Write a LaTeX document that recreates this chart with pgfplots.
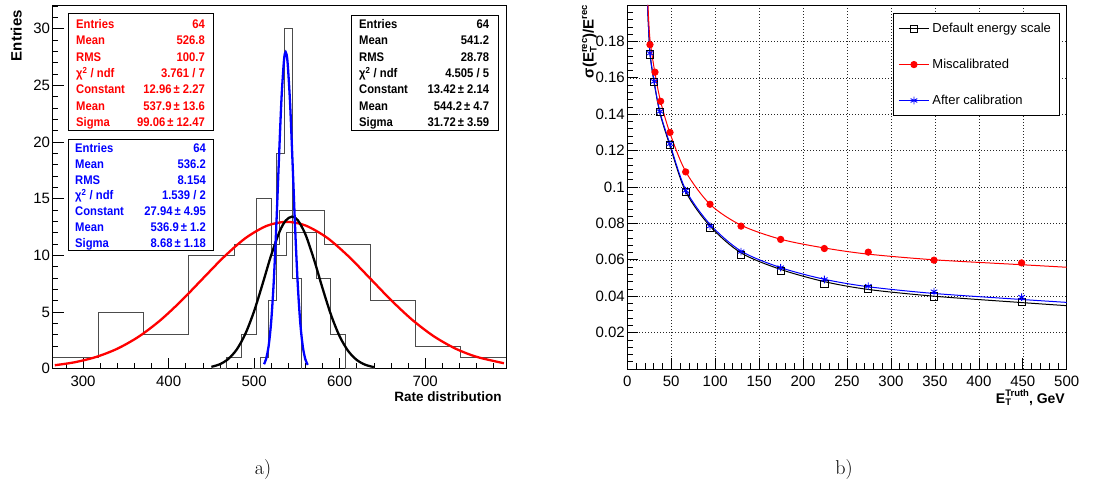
\documentclass[border=0pt]{standalone}
\usepackage{fontspec}
\setmainfont{Liberation Sans}
\newfontfamily\statfont[FakeStretch=0.9]{Liberation Sans}
\newfontfamily\lmr{Latin Modern Roman}
\usepackage{pgfplots}
\pgfplotsset{compat=1.18}

\newcommand{\supsub}[2]{%
  \setbox0=\hbox{\fontsize{9.5}{9.5}\selectfont\bfseries #1}%
  \setbox2=\hbox{\fontsize{9.5}{9.5}\selectfont\bfseries #2}%
  \ifdim\wd0>\wd2 \dimen0=\wd0 \else \dimen0=\wd2 \fi
  \hbox to\dimen0{\rlap{\raise 6.5pt\copy0}\lower 3pt\copy2\hfil}}
\newcommand{\supr}[1]{\raise 6.5pt\hbox{\fontsize{9.5}{9.5}\selectfont\bfseries #1}}

\newcommand{\srow}[5]{%
  \node[anchor=base west, inner sep=0pt] at (#1pt,#3pt) {#4};
  \node[anchor=base east, inner sep=0pt] at (#2pt,#3pt) {#5};}

\begin{document}
\begin{tikzpicture}
\useasboundingbox (0pt,0pt) rectangle (1099pt,487pt);

% ---------------- left panel ----------------
\begin{axis}[
  at={(52.7pt,118.3pt)}, anchor=south west,
  scale only axis, width=453.3pt, height=363.7pt,
  xmin=264.5, xmax=794.5, ymin=0, ymax=32.1,
  xtick={300,400,...,700}, minor xtick={280,300,...,780},
  ytick={0,5,...,30}, minor ytick={0,1,...,32},
  tick align=inside, xtick pos=bottom, ytick pos=left,
  major tick length=11pt, minor tick length=5.5pt,
  tick style={black, line width=0.6pt},
  /pgf/number format/assume math mode=true,
  ticklabel style={font=\fontsize{15}{15}\selectfont},
  xticklabel style={anchor=north, inner sep=0pt, yshift=-7pt},
  yticklabel style={anchor=east, inner sep=0pt, xshift=-2.5pt},
  axis line style={line width=0.8pt},
]
% wide histogram
\addplot[const plot, black!70, line width=0.8pt] coordinates {
 (264.5,1) (317.5,5) (370.5,3) (423.5,10) (476.5,11) (529.5,14)
 (582.5,11) (635.5,6) (688.5,2) (741.5,1) (794.5,1)};
% medium histogram
\addplot[const plot, black!70, line width=0.8pt] coordinates {
 (450.5,0) (467.9,1) (485.3,3) (502.7,15) (520.1,10) (537.5,12)
 (554.9,12) (572.3,8) (589.7,3) (607.1,0) (641.9,0)};
% narrow histogram
\addplot[const plot, black!70, line width=0.8pt] coordinates {
 (497,0) (507,1) (516.6,6) (526,19) (535.4,30) (545.2,8) (555,0)};
% red fit
\addplot[red, line width=2.3pt, smooth] coordinates {
 (267,0.308) (290,0.566) (315,1.031) (340,1.762) (365,2.826) (390,4.252)
 (415,6.003) (440,7.953) (465,9.885) (490,11.530) (515,12.618) (537.9,12.96)
 (560,12.641) (585,11.575) (610,9.944) (635,8.016) (660,6.063) (685,4.303)
 (710,2.866) (735,1.790) (760,1.050) (792,0.483)};
% black fit
\addplot[black, line width=2.3pt, smooth] coordinates {
 (450,0.163) (460,0.396) (470,0.870) (480,1.731) (490,3.117) (500,5.083)
 (510,7.505) (520,10.031) (530,12.140) (537,13.079) (544.2,13.42) (551,13.115)
 (560,11.854) (570,9.640) (580,7.098) (590,4.732) (600,2.856) (610,1.561)
 (620,0.772) (630,0.346) (640,0.140)};
% blue fit
\addplot[blue, line width=2.3pt, smooth] coordinates {
 (511.6,0.400) (514,0.861) (517,2.018) (520,4.198) (523,7.751) (526,12.700)
 (529,18.466) (532,23.825) (535,27.279) (536.9,27.94) (539,27.134) (542,23.511)
 (545,18.078) (548,12.335) (551,7.468) (554,4.013) (557,1.913) (560,0.810)
 (562.7,0.337)};
\end{axis}

% ---------------- right panel ----------------
\begin{axis}[
  at={(627.3pt,118pt)}, anchor=south west,
  scale only axis, width=439.4pt, height=364pt,
  xmin=0, xmax=500, ymin=0, ymax=0.2,
  xtick={0,50,...,500}, minor xtick={0,10,...,500},
  ytick={0.02,0.04,0.06,0.08,0.1,0.12,0.14,0.16,0.18},
  minor ytick={0.004,0.008,...,0.2},
  scaled y ticks=false,
  yticklabel={\pgfmathprintnumber[fixed,precision=2]{\tick}},
  tick align=inside, xtick pos=bottom, ytick pos=left,
  major tick length=11pt, minor tick length=5.5pt,
  tick style={black, line width=0.6pt},
  grid=major, grid style={black!85, line width=0.5pt, dash pattern=on 1pt off 2pt},
  /pgf/number format/assume math mode=true,
  ticklabel style={font=\fontsize{15}{15}\selectfont},
  xticklabel style={anchor=north, inner sep=0pt, yshift=-6.7pt},
  yticklabel style={anchor=east, inner sep=0pt, xshift=-2.3pt},
  axis line style={line width=0.8pt},
  legend image code/.code={\draw[#1, sharp plot, mark repeat=2, mark phase=2]
     plot coordinates {(0pt,0pt) (15pt,0pt) (30pt,0pt)};},
  legend style={at={(rel axis cs:0.9832,0.9772)}, anchor=north east,
     draw=black, line width=0.8pt, fill=white,
     font=\fontsize{13}{13}\selectfont,
     inner xsep=5pt, inner ysep=6.5pt, row sep=19pt,
     nodes={inner sep=3pt}},
  legend cell align=left,
]
% fit curves
\addplot[black, line width=1pt, smooth, forget plot] coordinates {
 (23.0,0.2) (25.8,0.1735) (30.7,0.1570) (37.2,0.1405) (48.6,0.1225) (66.4,0.0975)
 (94.1,0.0785) (129.4,0.0638) (174.5,0.0547) (224.2,0.0480) (274.2,0.0437)
 (349,0.0400) (448.7,0.0365) (500,0.0348)};
\addplot[blue, line width=1pt, smooth, forget plot] coordinates {
 (23.0,0.2) (25.8,0.1740) (30.7,0.1575) (37.2,0.1410) (48.6,0.1235) (66.4,0.0985)
 (94.1,0.0795) (129.4,0.0648) (174.5,0.0557) (224.2,0.0493) (274.2,0.0452)
 (349,0.0415) (448.7,0.0382) (500,0.0366)};
\addplot[red, line width=1pt, smooth, forget plot] coordinates {
 (23.5,0.2) (25.8,0.1810) (31.5,0.1625) (37.9,0.1470) (48.6,0.1295) (66.4,0.1085)
 (94.1,0.0905) (129.4,0.0790) (174.5,0.0713) (224.2,0.0665) (274.2,0.0631)
 (349,0.0600) (448.7,0.0573) (500,0.0559)};
% markers
\addplot[black, line width=0.8pt, only marks, mark=square, mark size=3.6pt] coordinates {
 (25.8,0.1729) (30.7,0.1576) (37.2,0.1411) (48.6,0.1232) (66.4,0.0975) (94.1,0.0776)
 (129.4,0.0629) (174.5,0.0541) (224.2,0.0469) (274.2,0.0440) (349,0.0399) (448.7,0.0368)};
\addlegendentry{Default energy scale}
\addplot[red, line width=0.8pt, only marks, mark=*, mark size=3.2pt, mark options={fill=red}] coordinates {
 (25.8,0.1782) (31.5,0.1631) (37.9,0.1471) (48.6,0.1300) (66.4,0.1083) (94.1,0.0905)
 (129.4,0.0785) (174.5,0.0712) (224.2,0.0662) (274.2,0.0642) (349,0.0598) (448.7,0.0583)};
\addlegendentry{Miscalibrated}
\addplot[blue, line width=0.9pt, only marks, mark=asterisk, mark size=3.8pt] coordinates {
 (25.8,0.1735) (30.7,0.1580) (37.2,0.1415) (48.6,0.1237) (66.4,0.0980) (94.1,0.0785)
 (129.4,0.0645) (174.5,0.0557) (224.2,0.0492) (274.2,0.0455) (349,0.0425) (448.7,0.0395)};
\addlegendentry{After calibration}
\end{axis}

% ---------------- stat boxes ----------------
\begin{scope}[font=\statfont\bfseries\fontsize{12.5}{12.5}\selectfont]
\draw[line width=0.8pt, fill=white] (68.3pt,473.7pt) rectangle (213.3pt,357pt);
\begin{scope}[red]
\srow{76}{205}{458.3}{Entries}{64}
\srow{76}{205}{442.0}{Mean}{526.8}
\srow{76}{205}{425.6}{RMS}{100.7}
\srow{76}{205}{409.3}{χ\textsuperscript{2} / ndf}{3.761 / 7}
\srow{76}{205}{393.0}{Constant}{12.96\,± 2.27}
\srow{76}{205}{376.6}{Mean}{537.9\,± 13.6}
\srow{76}{205}{360.3}{Sigma}{99.06\,± 12.47}
\end{scope}
\draw[line width=0.8pt, fill=white] (68.3pt,347.7pt) rectangle (213.3pt,237pt);
\begin{scope}[blue]
\srow{75}{206}{334.3}{Entries}{64}
\srow{75}{206}{318.5}{Mean}{536.2}
\srow{75}{206}{302.8}{RMS}{8.154}
\srow{75}{206}{287.0}{χ\textsuperscript{2} / ndf}{1.539 / 2}
\srow{75}{206}{271.2}{Constant}{27.94\,± 4.95}
\srow{75}{206}{255.4}{Mean}{536.9\,± 1.2}
\srow{75}{206}{239.7}{Sigma}{8.68\,± 1.18}
\end{scope}
\draw[line width=0.8pt, fill=white] (351.7pt,472pt) rectangle (498.3pt,356.3pt);
\srow{359}{489.3}{458.3}{Entries}{64}
\srow{359}{489.3}{442.0}{Mean}{541.2}
\srow{359}{489.3}{425.6}{RMS}{28.78}
\srow{359}{489.3}{409.3}{χ\textsuperscript{2} / ndf}{4.505 / 5}
\srow{359}{489.3}{393.0}{Constant}{13.42\,± 2.14}
\srow{359}{489.3}{376.6}{Mean}{544.2\,± 4.7}
\srow{359}{489.3}{360.3}{Sigma}{31.72\,± 3.59}
\end{scope}

% ---------------- axis titles ----------------
\node[rotate=90, anchor=base east, inner sep=0pt, font=\bfseries\fontsize{15}{15}\selectfont] at (21.7pt,477pt) {Entries};
\node[anchor=base east, inner sep=0pt, font=\bfseries\fontsize{13.5}{13.5}\selectfont] at (501.7pt,85pt) {Rate distribution};
\node[rotate=90, anchor=base east, inner sep=0pt, font=\bfseries\fontsize{15}{15}\selectfont] at (593.5pt,482pt) {σ(E\supsub{rec}{T})/E\supr{rec}};
\node[anchor=base east, inner sep=0pt, font=\bfseries\fontsize{14}{14}\selectfont] at (1065pt,84pt) {E\supsub{Truth}{T}, GeV};

% ---------------- panel captions ----------------
\node[anchor=base, inner sep=0pt, font=\lmr\fontsize{20}{20}\selectfont] at (263pt,13pt) {a)};
\node[anchor=base, inner sep=0pt, font=\lmr\fontsize{20}{20}\selectfont] at (844pt,13pt) {b)};
\end{tikzpicture}
\end{document}
